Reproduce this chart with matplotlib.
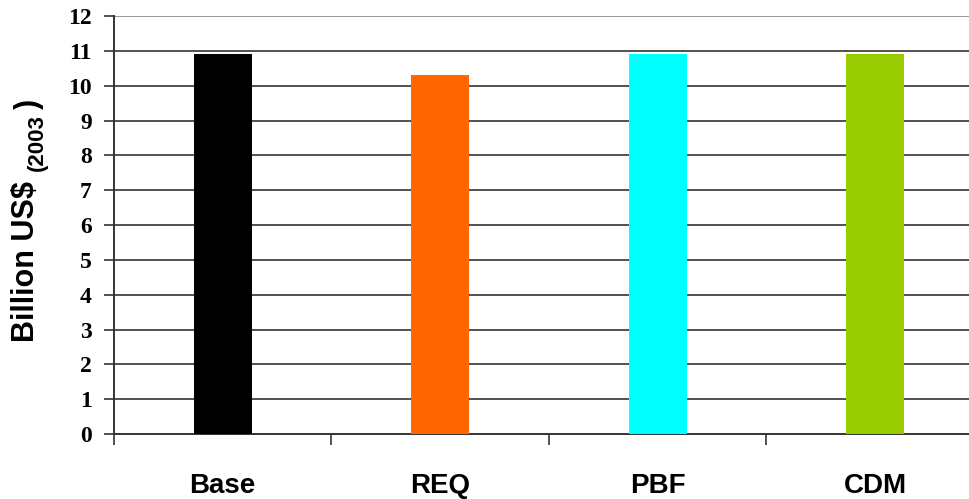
import matplotlib
matplotlib.use("Agg")
import matplotlib.pyplot as plt
from matplotlib.ticker import FixedLocator

categories = ["Base", "REQ", "PBF", "CDM"]
values = [10.9, 10.3, 10.9, 10.9]
colors = ["#000000", "#FF6600", "#00FFFF", "#99CC00"]
y_ticks = list(range(0, 13))

fig = plt.figure(figsize=(9.70, 4.99), dpi=100)
ax = fig.add_axes([114 / 970, 65 / 499, 870 / 970, 418 / 499])

x = list(range(len(categories)))
ax.bar(x, values, width=0.265, color=colors, zorder=3)

ax.set_xlim(-0.5, len(categories) - 0.5)
ax.set_ylim(0, 12)

# horizontal grid lines at each integer
for yv in y_ticks[1:]:
    ax.axhline(yv, color="#888888" if yv == 12 else "#333333", lw=1.2, zorder=1)

ax.set_yticks(y_ticks)
ax.set_yticklabels([str(v) for v in y_ticks],
                   fontfamily="Liberation Serif", fontweight="bold", fontsize=17)
ax.tick_params(axis="y", direction="out", length=7, width=1.2, color="#333333", pad=9)

ax.set_xticks(x)
ax.set_xticklabels(categories, fontfamily="Liberation Sans", fontweight="bold", fontsize=20)
ax.tick_params(axis="x", which="major", length=0, pad=28)
ax.xaxis.set_minor_locator(FixedLocator([i - 0.5 for i in range(len(categories) + 1)]))
ax.tick_params(axis="x", which="minor", direction="out", length=8, width=1.2, color="#333333")

for side in ["top", "right"]:
    ax.spines[side].set_visible(False)
for side in ["left", "bottom"]:
    ax.spines[side].set_color("#333333")
    ax.spines[side].set_linewidth(1.4)

# y-axis title: "Billion US$ (2003)" with a small year and a large closing paren
fig.text(26 / 970, 1 - 262 / 499, "Billion US$", rotation=90, ha="center", va="center",
         fontfamily="Liberation Sans", fontweight="bold", fontsize=22)
fig.text(37 / 970, 1 - 143 / 499, "(2003", rotation=90, ha="center", va="center",
         fontfamily="Liberation Sans", fontweight="bold", fontsize=16)
fig.text(29 / 970, 1 - 104 / 499, ")", rotation=90, ha="center", va="center",
         fontfamily="Liberation Sans", fontweight="bold", fontsize=22)

fig.savefig("out.png", dpi=100)
